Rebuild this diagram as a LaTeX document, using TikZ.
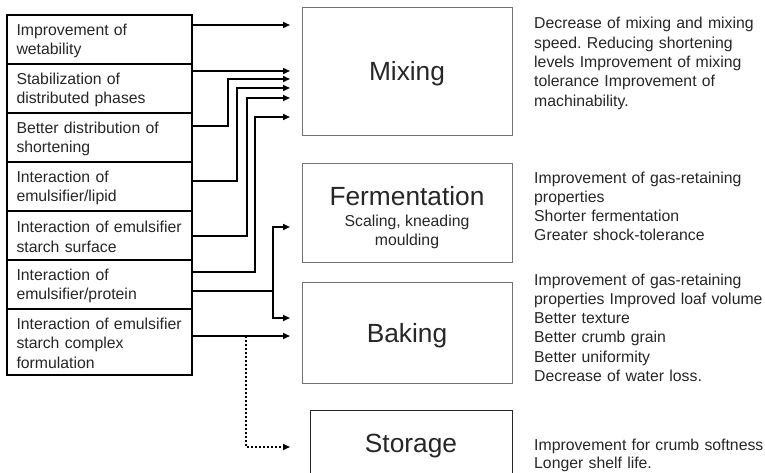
\documentclass[tikz,border=0pt]{standalone}
\usepackage{fontspec}
\setmainfont{Liberation Sans}
\usetikzlibrary{arrows.meta,positioning,calc}
\frenchspacing

\begin{document}
\begin{tikzpicture}[x=1pt, y=-1pt, >={Triangle[length=7pt,width=6pt]},
 row/.style={draw, line width=1.3pt, outer sep=0pt, minimum width=185pt, minimum height=49pt, text width=166pt, inner xsep=9.5pt, align=left, font=\fontsize{15.8}{19.5}\selectfont, text=black!85},
 stage/.style={draw=black!55, line width=0.8pt, outer sep=0pt, minimum width=210pt, text depth=0pt, align=center, text=black!85},
 note/.style={anchor=base west, inner sep=0pt, text width=260pt, align=left, font=\fontsize{15.8}{19.3}\selectfont, text=black!85},
 link/.style={->, line width=1.7pt}]
\useasboundingbox (0,0) rectangle (765,473);
% effects of the emulsifier
\node[row, anchor=north west] (r1) at (7,15) {\rule{0pt}{14pt}Improvement of\\ wetability};
\node[row, below=0pt of r1] (r2) {\rule{0pt}{14pt}Stabilization of\\ distributed phases};
\node[row, below=0pt of r2] (r3) {\rule{0pt}{14pt}Better distribution of\\ shortening};
\node[row, below=0pt of r3] (r4) {\rule{0pt}{14pt}Interaction of\\ emulsifier/lipid};
\node[row, below=0pt of r4] (r5) {\rule{0pt}{14pt}Interaction of emulsifier\\ starch surface};
\node[row, below=0pt of r5] (r6) {\rule{0pt}{14pt}Interaction of\\ emulsifier/protein};
\node[row, below=0pt of r6, minimum height=66pt] (r7) {\rule{0pt}{14pt}Interaction of emulsifier\\ starch complex\\ formulation};
\draw[line width=2.2pt] (r1.north west) rectangle (r7.south east);
% process stages
\node[stage, minimum height=128pt, font=\fontsize{26.3}{30}\selectfont] (mix) at (407,71) {Mixing};
\node[stage, minimum height=99pt, font=\fontsize{15.8}{19}\selectfont] (ferm) at (407,212.5)
 {{\fontsize{26.3}{30}\selectfont\rule{0pt}{25pt}Fermentation}\\[2pt] Scaling, kneading\\ moulding};
\node[stage, minimum height=101pt, font=\fontsize{26.3}{30}\selectfont] (bak) at (407,332.5) {Baking};
\node[stage, draw=black!85, minimum width=202pt, minimum height=66pt, font=\fontsize{26.3}{30}\selectfont] (sto) at (411,443) {Storage};
% improvements
\node[note] (nmix) at (534,29) {Decrease of mixing and mixing\\ speed. Reducing shortening\\ levels Improvement of mixing\\ tolerance Improvement of\\ machinability.};
\node[note] (nferm) at (534,183) {Improvement of gas-retaining\\ properties\\ Shorter fermentation\\ Greater shock-tolerance};
\node[note] (nbak) at (534,285) {Improvement of gas-retaining\\ properties Improved loaf volume\\ Better texture\\ Better crumb grain\\ Better uniformity\\ Decrease of water loss.};
\node[note, font=\fontsize{15.8}{18.5}\selectfont] (nsto) at (534,450) {Improvement for crumb softness\\ Longer shelf life.};
% connectors
\coordinate (split) at (273,291);
\coordinate (dot) at (246,336);
\draw[link, shorten >=12pt] (r1.east |- 0,25) -- (mix.west |- 0,25);
\draw[link, shorten >=12pt] (r2.east |- 0,71) -- (mix.west |- 0,71);
\draw[link, shorten >=12pt] (r3.east |- 0,126) -| (228,79) -- (mix.west |- 0,79);
\draw[link, shorten >=12pt] (r4.east |- 0,181) -| (237,88) -- (mix.west |- 0,88);
\draw[link, shorten >=12pt] (r5.east |- 0,236) -| (247,98) -- (mix.west |- 0,98);
\draw[link, shorten >=12pt] (r6.east |- 0,272) -| (255,117) -- (mix.west |- 0,117);
\draw[link, shorten >=12pt] (r6.east |- split) -- (split) |- (ferm.west |- 0,227);
\draw[link, shorten >=12pt] (split) |- (bak.west |- 0,318);
\draw[link, shorten >=12pt] (r7.east |- 0,336) -- (bak.west |- 0,336);
\draw[link, dash pattern=on 1.8pt off 2.2pt, shorten >=20pt] (dot) |- (sto.west |- 0,447);
\end{tikzpicture}
\end{document}
